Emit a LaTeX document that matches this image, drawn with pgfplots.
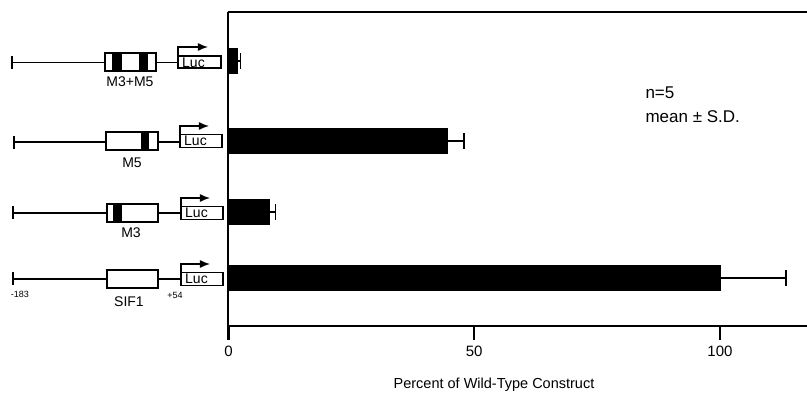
\documentclass[border=0pt]{standalone}
\usepackage{pgfplots}
\pgfplotsset{compat=1.18}
\usepackage{fontspec}
\setmainfont{Liberation Sans}
\usetikzlibrary{arrows.meta}

\begin{document}
\begin{tikzpicture}
\useasboundingbox (-228.5pt,-66pt) rectangle (578.5pt,326pt);
\begin{axis}[
  scale only axis, width=578.5pt, height=314pt,
  at={(0pt,0pt)}, anchor=south west,
  xmin=0, xmax=117.7, ymin=0, ymax=314,
  axis x line*=bottom, axis y line*=left,
  axis line style={-, line width=2pt},
  xtick={0,50,100}, ytick=\empty,
  tick align=outside, major tick length=14pt,
  every tick/.style={black, line width=2.2pt},
  x tick label style={font=\fontsize{15}{17}\selectfont, yshift=-2pt},
  /pgf/number format/assume math mode=true,
  clip=false,
]
\addplot[xbar, fill=black, draw=black, bar width=25,
  error bars/.cd, x dir=plus, x explicit,
  error mark=|,
  error bar style={line width=1.3pt},
  error mark options={line width=1.3pt, mark size=8pt}]
  coordinates {
    (100,48) +- (13.4,0)
    (8.2,114) +- (1.3,0)
    (44.5,185) +- (3.4,0)
    (1.7,265) +- (0.7,0)
  };
\draw[line width=2pt] (rel axis cs:0,1) -- (rel axis cs:1,1);
\end{axis}
\begin{scope}[shift={(-228.5pt,326pt)}, x=1pt, y=-1pt]
  % axis label and annotation
  \node[anchor=base, font=\fontsize{14.5}{16}\selectfont] at (494,388) {Percent of Wild-Type Construct};
  \node[anchor=base west, font=\fontsize{17}{19}\selectfont] at (642,98) {n=5};
  \node[anchor=base west, font=\fontsize{17}{19}\selectfont] at (642,122) {mean ± S.D.};
  \tikzset{con/.style={line width=1.2pt}, bx/.style={line width=1.3pt},
    lbl/.style={font=\fontsize{14}{16}\selectfont},
    luc/.style={font=\fontsize{14}{15}\selectfont, anchor=west, inner sep=0pt},
    arr/.style={line width=1.4pt, -{Latex[length=10pt,width=8pt]}}}
  % Row A: M3+M5
  \draw[con] (12,56) -- (12,69);
  \draw[con] (12,62.5) -- (105,62.5);
  \draw[con] (156,62.5) -- (178,62.5);
  \fill (112,53) rectangle (122,71);
  \fill (139,53) rectangle (148,71);
  \draw[bx] (105,53) rectangle (156,71);
  \draw[bx] (178,56) rectangle (221,68);
  \node[luc] at (182,62.5) {Luc};
  \draw[arr] (178,56) -- (178,47) -- (208,47);
  \node[lbl] at (130,82) {M3+M5};
  % Row B: M5
  \draw[con] (14,136) -- (14,149);
  \draw[con] (14,142) -- (106,142);
  \draw[con] (158,142) -- (180,142);
  \fill (141,132) rectangle (149,150);
  \draw[bx] (106,132) rectangle (158,150);
  \draw[bx] (180,134.5) rectangle (222,147.5);
  \node[luc] at (184,141) {Luc};
  \draw[arr] (180,134.5) -- (180,126) -- (209,126);
  \node[lbl] at (132,163) {M5};
  % Row C: M3
  \draw[con] (13,206) -- (13,219);
  \draw[con] (13,213) -- (107,213);
  \draw[con] (158,213) -- (181,213);
  \fill (113,204) rectangle (122,222);
  \draw[bx] (107,204) rectangle (158,222);
  \draw[bx] (181,206.5) rectangle (223,219.5);
  \node[luc] at (185,213) {Luc};
  \draw[arr] (181,206.5) -- (181,198) -- (210,198);
  \node[lbl] at (131,233) {M3};
  % Row D: SIF1
  \draw[con] (13,272) -- (13,285);
  \draw[con] (13,279) -- (107,279);
  \draw[con] (158,279) -- (181,279);
  \draw[bx] (107,270) rectangle (158,288);
  \draw[bx] (181,272.5) rectangle (223,285.5);
  \node[luc] at (185,279) {Luc};
  \draw[arr] (181,272.5) -- (181,264) -- (210,264);
  \node[lbl] at (129,302) {SIF1};
  \node[font=\fontsize{9}{10}\selectfont] at (20,294) {-183};
  \node[font=\fontsize{9}{10}\selectfont] at (175,295) {+54};
\end{scope}
\end{tikzpicture}
\end{document}
